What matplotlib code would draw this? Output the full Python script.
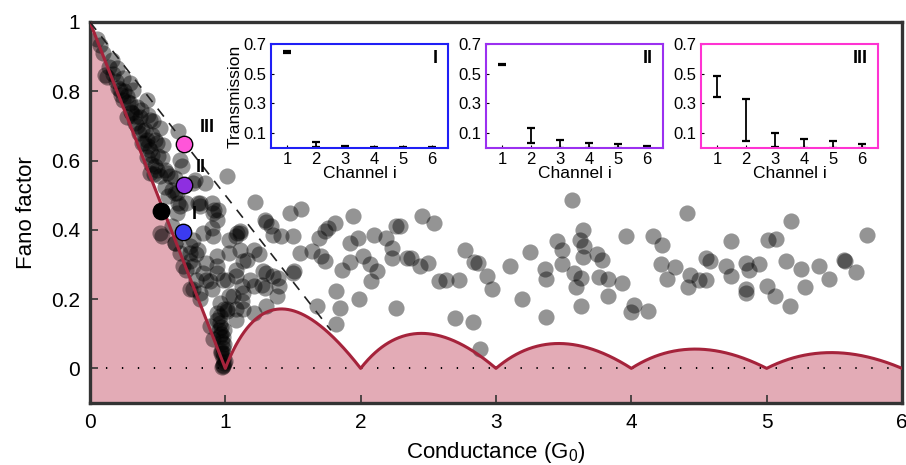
import numpy as np
import matplotlib
matplotlib.use("Agg")
import matplotlib.pyplot as plt

plt.rcParams['font.family'] = ['Liberation Sans', 'DejaVu Sans']

# ---------------- data ----------------
G_pts = [
    0.074, 0.16, 0.11, 0.197, 0.246, 0.295, 0.22, 0.246, 0.295, 0.345, 0.307, 0.369, 0.418, 0.332, 0.381,
    0.443, 0.517, 0.455, 0.381, 0.430, 0.492, 0.541, 0.652, 0.455, 0.529, 0.664, 0.480, 0.553, 0.443, 0.517,
    0.590, 0.775, 0.849, 0.553, 0.627, 0.664, 0.812, 0.91, 0.947, 1.01,
    0.123, 0.27, 0.32, 0.38, 0.27, 0.43, 0.467, 0.406, 0.418, 0.48, 0.443, 0.504, 0.677, 0.492, 0.566,
    0.627, 0.603, 0.578, 0.64, 0.763, 0.80, 0.898, 0.652, 0.713,
    0.05, 0.10, 0.14, 0.17, 0.19, 0.21, 0.23, 0.25, 0.28, 0.30, 0.33, 0.35, 0.36, 0.40, 0.42, 0.45, 0.47,
    0.517, 0.603, 0.627, 0.763, 0.836, 0.898, 0.935, 0.80, 0.74, 0.664, 0.689, 0.763, 0.861, 0.935, 1.03,
    1.08, 1.11, 1.21, 0.787, 0.861, 0.935, 0.738, 0.812, 0.898, 1.01, 1.08, 1.03, 1.13, 1.21, 1.30, 1.13,
    1.21, 1.01, 1.08, 1.40, 1.50, 1.55, 1.50, 1.30,
    0.529, 0.627, 0.738, 0.787, 0.738, 0.713, 0.836, 0.935, 0.886, 0.762, 0.812, 0.984, 1.08, 1.12, 1.06,
    1.08, 1.01, 0.935, 0.886, 0.91,
    0.96, 0.97, 0.98, 0.98, 0.98, 0.98, 0.96, 0.97, 0.975, 0.985, 0.99, 0.97, 0.99, 0.99, 1.0, 0.975,
    0.95, 0.96, 0.99, 0.935, 0.96, 0.97, 0.98,
    1.03, 1.11, 0.91, 1.16, 0.92, 0.81, 0.64,
    1.22, 1.48, 1.56, 1.29, 1.30, 1.34, 1.35, 1.41, 1.25, 1.11, 1.13, 1.18, 1.28, 1.27, 1.29, 1.35, 1.39,
    1.38, 1.51, 1.12, 1.64, 1.71, 1.74, 1.74, 1.76, 1.81, 1.69, 1.94, 1.92, 1.98, 1.86, 1.92, 2.02, 2.07,
    2.12, 2.08, 1.82, 1.85, 1.99, 1.68, 1.82, 2.10, 2.19, 2.26, 2.23, 2.23, 2.34, 2.26, 1.09,
    2.29, 2.45, 2.54, 2.37, 2.44, 2.50, 2.58, 2.63, 2.73, 2.77, 2.84, 2.87, 2.93, 2.97, 2.70, 2.83, 3.10,
    3.25, 3.19, 3.36, 3.37, 3.37, 3.45, 3.49, 3.49, 2.88,
    3.56, 3.64, 3.62, 3.65, 3.64, 3.58, 3.63, 3.59, 3.63, 3.75, 3.78, 3.76, 3.83, 3.83, 3.93, 3.96, 4.02,
    4.00, 4.12, 4.16, 4.23, 4.22, 4.32, 4.26, 4.41, 4.43, 4.42, 4.50, 4.55, 4.55, 4.58, 4.70, 4.74, 4.74,
    4.85, 4.87, 4.94, 4.85, 4.85, 5.00, 5.06, 5.01, 5.07, 5.18, 5.14, 5.17, 5.25, 5.28, 5.39, 5.46, 5.57,
    5.58, 5.66, 5.74,
]
F_pts = [
    0.934, 0.890, 0.847, 0.867, 0.838, 0.823, 0.804, 0.775, 0.766, 0.756, 0.737, 0.727, 0.775, 0.708, 0.689,
    0.718, 0.694, 0.674, 0.650, 0.641, 0.650, 0.646, 0.684, 0.617, 0.607, 0.602, 0.583, 0.573, 0.564, 0.554,
    0.554, 0.545, 0.535, 0.525, 0.506, 0.468, 0.477, 0.449, 0.458, 0.554,
    0.842, 0.785, 0.804, 0.746, 0.727, 0.732, 0.713, 0.689, 0.660, 0.660, 0.631, 0.612, 0.583, 0.573, 0.564,
    0.550, 0.516, 0.497, 0.506, 0.535, 0.477, 0.477, 0.477, 0.477,
    0.95, 0.91, 0.87, 0.85, 0.83, 0.81, 0.79, 0.80, 0.77, 0.74, 0.73, 0.70, 0.68, 0.65, 0.61, 0.59, 0.56,
    0.391, 0.410, 0.362, 0.372, 0.391, 0.405, 0.429, 0.343, 0.333, 0.333, 0.295, 0.295, 0.305, 0.324, 0.333,
    0.381, 0.343, 0.343, 0.256, 0.256, 0.276, 0.228, 0.218, 0.228, 0.256, 0.266, 0.208, 0.218, 0.237, 0.276,
    0.170, 0.160, 0.170, 0.141, 0.237, 0.276, 0.333, 0.381, 0.180,
    0.381, 0.362, 0.352, 0.329, 0.309, 0.285, 0.276, 0.295, 0.252, 0.228, 0.199, 0.256, 0.285, 0.237, 0.208,
    0.170, 0.165, 0.160, 0.122, 0.084,
    0.15, 0.12, 0.09, 0.06, 0.03, 0.01, 0.13, 0.10, 0.075, 0.045, 0.015, 0.05, 0.07, 0.11, 0.02, 0.005,
    0.11, 0.19, 0.17, 0.141, 0.093, 0.045, 0.007,
    0.372, 0.391, 0.381, 0.314, 0.458, 0.468, 0.449,
    0.479, 0.449, 0.460, 0.429, 0.424, 0.410, 0.386, 0.381, 0.329, 0.396, 0.309, 0.256, 0.280, 0.242, 0.233,
    0.266, 0.261, 0.208, 0.280, 0.194, 0.338, 0.324, 0.309, 0.396, 0.405, 0.420, 0.377, 0.441, 0.362, 0.377,
    0.285, 0.306, 0.324, 0.300, 0.280, 0.252, 0.223, 0.175, 0.199, 0.180, 0.127, 0.386, 0.377, 0.410, 0.348,
    0.319, 0.319, 0.175, 0.391,
    0.410, 0.439, 0.420, 0.318, 0.295, 0.305, 0.252, 0.256, 0.256, 0.341, 0.306, 0.303, 0.268, 0.230, 0.146,
    0.133, 0.297, 0.335, 0.201, 0.287, 0.258, 0.149, 0.367, 0.341, 0.300, 0.055,
    0.485, 0.399, 0.370, 0.352, 0.322, 0.276, 0.261, 0.235, 0.180, 0.331, 0.312, 0.264, 0.259, 0.208, 0.247,
    0.383, 0.184, 0.162, 0.165, 0.381, 0.357, 0.300, 0.293, 0.258, 0.450, 0.271, 0.235, 0.256, 0.254, 0.319,
    0.309, 0.297, 0.367, 0.266, 0.305, 0.283, 0.300, 0.228, 0.218, 0.239, 0.208, 0.370, 0.374, 0.425, 0.309,
    0.180, 0.287, 0.234, 0.297, 0.258, 0.312, 0.309, 0.278, 0.386,
]

# highlighted samples
hl_G = [0.524, 0.684, 0.696, 0.696]
hl_F = [0.455, 0.394, 0.530, 0.649]
hl_colors = ['#000000', '#3b3bf0', '#8e2fe0', '#ff55d9']
hl_labels = ['', 'I', 'II', 'III']
hl_label_G = [0, 0.755, 0.785, 0.81]
hl_label_F = [0, 0.444, 0.58, 0.695]

# dashed guide line end points
dash_G = [0.0, 1.78]
dash_F = [1.0, 0.11]

# inset transmission ranges (per channel 1..6)
channels = [1, 2, 3, 4, 5, 6]
inset_lo = {
    'I':   [0.642, 0.007, 0.005, 0.000, 0.000, 0.000],
    'II':  [0.556, 0.034, 0.003, 0.002, 0.002, 0.002],
    'III': [0.343, 0.045, 0.005, 0.003, 0.003, 0.003],
}
inset_hi = {
    'I':   [0.651, 0.043, 0.012, 0.004, 0.004, 0.004],
    'II':  [0.563, 0.138, 0.057, 0.036, 0.025, 0.012],
    'III': [0.484, 0.331, 0.101, 0.063, 0.045, 0.030],
}
inset_colors = {'I': '#1f1ff5', 'II': '#9b30f0', 'III': '#ff33d2'}
inset_yticks = [0.1, 0.3, 0.5, 0.7]

# ---------------- figure ----------------
fig = plt.figure(figsize=(9.06, 4.65), dpi=100)
ax = fig.add_axes([0.0993, 0.1333, 0.8963, 0.8194])

RED = '#a5233b'
PINK = '#e3abb6'

# minimum Fano factor bound (theoretical curve of the chart)
Gc = np.linspace(0, 6, 2401)
n = np.floor(Gc)
frac = Gc - n
Fmin = np.where(Gc < 1, 1 - Gc, frac * (1 - frac) / np.maximum(Gc, 1e-9))
ax.fill_between(Gc, -0.1, Fmin, color=PINK, lw=0, zorder=0)

ax.plot([0, 6], [0, 0], color='black', lw=1.4, ls=(0, (0.7, 7.5)), zorder=1)

ax.scatter(G_pts, F_pts, s=135, color='black', alpha=0.42, lw=0, zorder=2)

ax.plot(Gc, Fmin, color=RED, lw=2.2, zorder=3)
ax.plot(dash_G, dash_F, color='#222222', lw=1.2, ls=(0, (6, 5)), zorder=3)

for g, f, c, lab, lg, lf in zip(hl_G, hl_F, hl_colors, hl_labels, hl_label_G, hl_label_F):
    ax.scatter([g], [f], s=140, color=c, edgecolor='black', lw=1.0, zorder=4)
    if lab:
        ax.text(lg, lf, lab, fontsize=13, fontweight='bold', ha='left', va='center', zorder=5)

ax.set_xlim(0, 6)
ax.set_ylim(-0.1, 1)
ax.set_xticks([0, 1, 2, 3, 4, 5, 6])
ax.set_xticklabels(['0', '1', '2', '3', '4', '5', '6'])
ax.set_yticks([0, 0.2, 0.4, 0.6, 0.8, 1])
ax.set_yticklabels(['0', '0.2', '0.4', '0.6', '0.8', '1'])
ax.tick_params(direction='in', length=6, width=1.2, color='#333333', labelsize=15, pad=7)
for s in ax.spines.values():
    s.set_linewidth(2.4)
    s.set_color('#333333')
ax.set_xlabel('Conductance (G$_\\mathregular{0}$)', fontsize=16, labelpad=6)
ax.set_ylabel('Fano factor', fontsize=16, labelpad=10)

# ---------------- insets ----------------
inset_left = [0.2991, 0.5364, 0.7737]
for key, left in zip(['I', 'II', 'III'], inset_left):
    ia = fig.add_axes([left, 0.6817, 0.1954, 0.2237])
    lo = np.array(inset_lo[key])
    hi = np.array(inset_hi[key])
    ia.errorbar(channels, (lo + hi) / 2, yerr=(hi - lo) / 2, fmt='none', ecolor='black',
                elinewidth=1.3, capsize=3.2, capthick=1.6)
    ia.set_xlim(0.45, 6.55)
    ia.set_ylim(0, 0.7)
    ia.set_xticks(channels)
    ia.set_yticks(inset_yticks)
    ia.set_yticklabels(['0.1', '0.3', '0.5', '0.7'])
    ia.tick_params(direction='in', length=2, width=0.8, labelsize=12, pad=3)
    for s in ia.spines.values():
        s.set_color(inset_colors[key])
        s.set_linewidth(1.5)
    ia.set_xlabel('Channel i', fontsize=12.5, labelpad=-1)
    if key == 'I':
        ia.set_ylabel('Transmission', fontsize=12.5, labelpad=1)
    ia.text(6.2, 0.6, key, fontsize=13, fontweight='bold', ha='right', va='center')

fig.savefig('out.png', dpi=100)
